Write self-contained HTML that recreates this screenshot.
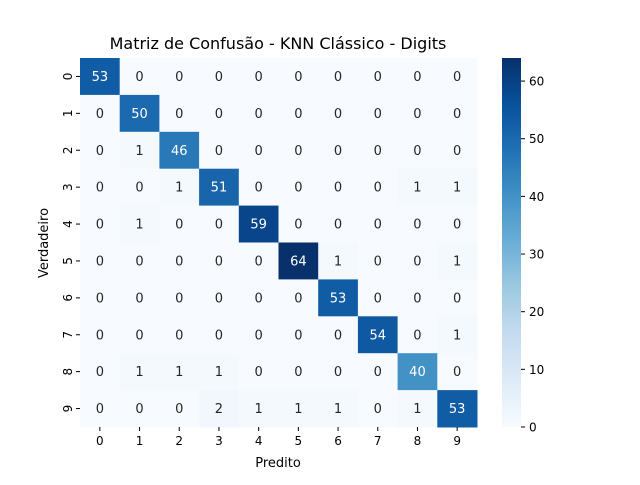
<!DOCTYPE html>
<html><head><meta charset="utf-8"><style>
body{margin:0;background:#fff;font-family:"Liberation Sans","DejaVu Sans",sans-serif}
</style></head><body>
<svg id="chart" width="640" height="480" xmlns="http://www.w3.org/2000/svg" font-family="'DejaVu Sans','Liberation Sans',sans-serif">
<rect width="640" height="480" fill="#fff"/>
<text x="278" y="49" text-anchor="middle" font-size="16">Matriz de Confusão - KNN Clássico - Digits</text>
<text x="278" y="467" text-anchor="middle" font-size="13">Predito</text>
<text x="48" y="243" text-anchor="middle" font-size="13" transform="rotate(-90 48 243)">Verdadeiro</text>
<g id="cells"></g>
<defs><linearGradient id="cb" x1="0" y1="1" x2="0" y2="0">
<stop offset="0" stop-color="#f7fbff"/><stop offset=".125" stop-color="#deebf7"/><stop offset=".25" stop-color="#c6dbef"/><stop offset=".375" stop-color="#9ecae1"/><stop offset=".5" stop-color="#6baed6"/><stop offset=".625" stop-color="#4292c6"/><stop offset=".75" stop-color="#2171b5"/><stop offset=".875" stop-color="#08519c"/><stop offset="1" stop-color="#08306b"/>
</linearGradient></defs>
<rect x="502" y="58" width="19" height="369" fill="url(#cb)"/>
<g id="cbticks"></g>
</svg>
<script>
const labels=["0","1","2","3","4","5","6","7","8","9"];
const matrix=[
[53,0,0,0,0,0,0,0,0,0],
[0,50,0,0,0,0,0,0,0,0],
[0,1,46,0,0,0,0,0,0,0],
[0,0,1,51,0,0,0,0,1,1],
[0,1,0,0,59,0,0,0,0,0],
[0,0,0,0,0,64,1,0,0,1],
[0,0,0,0,0,0,53,0,0,0],
[0,0,0,0,0,0,0,54,0,1],
[0,1,1,1,0,0,0,0,40,0],
[0,0,0,2,1,1,1,0,1,53]];
const cbTicks=[0,10,20,30,40,50,60];
const NS="http://www.w3.org/2000/svg";
const X0=80,Y0=58,W=397,H=369,n=labels.length,cw=W/n,ch=H/n;
let vmax=0;matrix.forEach(r=>r.forEach(v=>{if(v>vmax)vmax=v;}));
const stops=["#f7fbff","#deebf7","#c6dbef","#9ecae1","#6baed6","#4292c6","#2171b5","#08519c","#08306b"];
function hex(h){return[1,3,5].map(i=>parseInt(h.substr(i,2),16));}
function color(v){let t=Math.max(0,Math.min(1,v/vmax))*8;let i=Math.min(7,Math.floor(t)),f=t-i;
const a=hex(stops[i]),b=hex(stops[i+1]);return"rgb("+a.map((c,k)=>Math.round(c+(b[k]-c)*f)).join(",")+")";}
const xs=j=>X0+j*cw, ys=i=>Y0+i*ch, cy=v=>Y0+H-v/vmax*H;
const g=document.getElementById("cells");
function el(t,a,p){const e=document.createElementNS(NS,t);for(const k in a)e.setAttribute(k,a[k]);p.appendChild(e);return e;}
matrix.forEach((row,i)=>row.forEach((v,j)=>{
const r=el("rect",{x:xs(j),y:ys(i),width:cw+0.5,height:ch+0.5,fill:color(v)},g);


const t=el("text",{x:xs(j)+cw/2,y:ys(i)+ch/2+4.5,"text-anchor":"middle","font-size":"13",fill:v>vmax*0.5?"#fff":"#262626"},g);
t.textContent=v;


}));
labels.forEach((l,k)=>{
el("line",{x1:xs(k)+cw/2,x2:xs(k)+cw/2,y1:Y0+H,y2:Y0+H+4,stroke:"#000"},g);
const tx=el("text",{x:xs(k)+cw/2,y:Y0+H+18,"text-anchor":"middle","font-size":"12"},g);tx.textContent=l;


const yy=ys(k)+ch/2;
el("line",{x1:X0-4,x2:X0,y1:yy,y2:yy,stroke:"#000"},g);
const ty=el("text",{x:X0-12,y:yy,"text-anchor":"middle","font-size":"12",transform:"rotate(-90 "+(X0-12)+" "+yy+")",dy:"4"},g);ty.textContent=l;


});
const cg=document.getElementById("cbticks");
cbTicks.forEach(v=>{const y=cy(v);
el("line",{x1:521,x2:525,y1:y,y2:y,stroke:"#000"},cg);
const t=el("text",{x:529,y:y+4.5,"font-size":"12"},cg);t.textContent=v;


});
</script>
</body></html>
